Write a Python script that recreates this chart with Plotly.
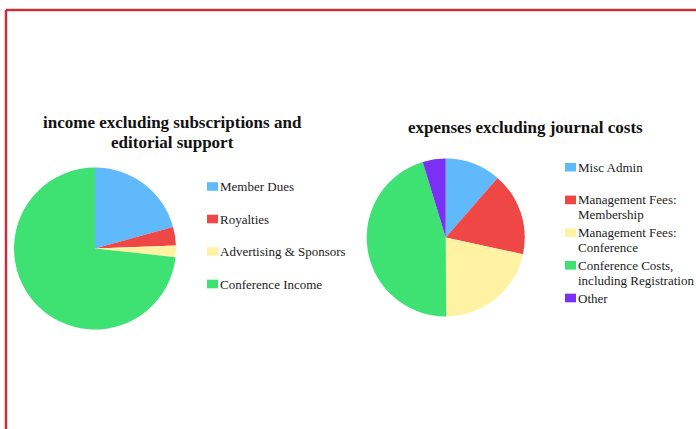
import plotly.graph_objects as go

income_labels = ["Member Dues", "Royalties", "Advertising & Sponsors", "Conference Income"]
income_values = [20.7, 3.7, 2.3, 73.3]
income_colors = ["#5fb9fb", "#ef4646", "#fff3a3", "#3de273"]

expense_labels = ["Misc Admin", "Management Fees:<br>Membership", "Management Fees:<br>Conference",
                  "Conference Costs,<br>including Registration", "Other"]
expense_values = [11.4, 17.0, 21.5, 45.4, 4.7]
expense_colors = ["#5fb9fb", "#ef4646", "#fff3a3", "#3de273", "#7b30f5"]

W, H = 696, 429
FONT = "Liberation Serif, Times New Roman, serif"


def px(x):
    return x / W


def py(y):
    return 1 - y / H


fig = go.Figure()
fig.add_trace(go.Pie(
    labels=income_labels, values=income_values, sort=False, direction="clockwise", rotation=0,
    marker=dict(colors=income_colors, line=dict(width=0)), textinfo="none", showlegend=False,
    domain=dict(x=[px(14), px(176)], y=[py(329.5), py(167.5)]), hoverinfo="label+percent",
))
fig.add_trace(go.Pie(
    labels=expense_labels, values=expense_values, sort=False, direction="clockwise", rotation=0,
    marker=dict(colors=expense_colors, line=dict(width=0)), textinfo="none", showlegend=False,
    domain=dict(x=[px(366.7), px(524.7)], y=[py(316.5), py(158.5)]), hoverinfo="label+percent",
))

shapes = [
    dict(type="line", xref="paper", yref="paper", x0=px(6), x1=1, y0=py(10), y1=py(10),
         line=dict(color="#c2303a", width=2.5)),
    dict(type="line", xref="paper", yref="paper", x0=px(6), x1=px(6), y0=py(10), y1=0,
         line=dict(color="#c2303a", width=2.5)),
]
annotations = []

title_font = dict(family=FONT, size=17, color="#111111")
for text, cx, cy in [("income excluding subscriptions and", 172, 123),
                     ("editorial support", 172, 143),
                     ("expenses excluding journal costs", 525.5, 127)]:
    annotations.append(dict(text="<b>" + text + "</b>", x=px(cx), y=py(cy), xref="paper", yref="paper",
                            showarrow=False, xanchor="center", yanchor="middle", font=title_font))


def add_legend(labels, colors, sq_x, y0, step, line_gap):
    for i, (lab, col) in enumerate(zip(labels, colors)):
        cy = y0 + i * step
        shapes.append(dict(type="rect", xref="paper", yref="paper", x0=px(sq_x), x1=px(sq_x + 11),
                           y0=py(cy + 4.3), y1=py(cy - 4.3), fillcolor=col, line=dict(width=0)))
        for j, line in enumerate(lab.split("<br>")):
            annotations.append(dict(text=line, x=px(sq_x + 11), y=py(cy + j * line_gap), xref="paper",
                                    yref="paper", showarrow=False, xanchor="left", yanchor="middle",
                                    font=dict(family=FONT, size=13, color="#222222")))


add_legend(income_labels, income_colors, 207, 186.5, 32.5, 15)
add_legend(expense_labels, expense_colors, 565, 167.2, 32.7, 15)

fig.update_layout(
    width=W, height=H, margin=dict(l=0, r=0, t=0, b=0),
    paper_bgcolor="white", plot_bgcolor="white",
    annotations=annotations, shapes=shapes,
)
fig.write_html("out.html", config={"displayModeBar": False},
               post_script="document.body.style.margin='0';document.body.style.padding='0';")
